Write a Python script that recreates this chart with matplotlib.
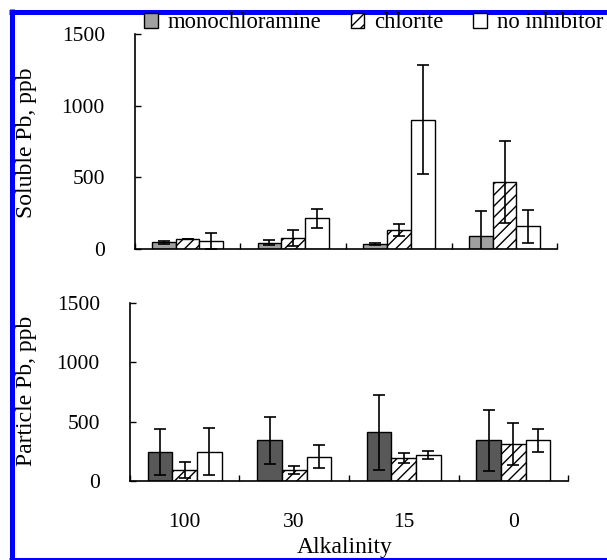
import matplotlib
matplotlib.use("Agg")
import matplotlib.pyplot as plt
from matplotlib.lines import Line2D
import numpy as np

plt.rcParams['font.family'] = ['Liberation Serif', 'DejaVu Serif']
plt.rcParams['hatch.linewidth'] = 1.0

categories = ['100', '30', '15', '0']
series = ['monochloramine', 'chlorite', 'no inhibitor']

sol_mono = [47, 45, 35, 92]
sol_mono_err = [10, 18, 10, 170]
sol_chlor = [68, 77, 134, 467]
sol_chlor_err = [0, 57, 40, 285]
sol_noinh = [58, 216, 901, 157]
sol_noinh_err = [55, 66, 380, 113]

par_mono = [247, 343, 410, 343]
par_mono_err = [195, 200, 314, 258]
par_chlor = [93, 93, 191, 312]
par_chlor_err = [70, 33, 42, 174]
par_noinh = [247, 205, 219, 343]
par_noinh_err = [200, 95, 36, 95]

W, H = 607, 560
fig = plt.figure(figsize=(W / 100, H / 100), dpi=100)

def px_axes(left, right, y0, ytop):
    return fig.add_axes([left / W, (H - y0) / H, (right - left) / W, (y0 - ytop) / H])

ax1 = px_axes(134.7, 557.4, 249, 34)
ax2 = px_axes(129.7, 568.3, 481, 303)

bw = 0.225
x = np.arange(len(categories)) + 0.5

def draw(ax, vals, errs, mono_color):
    colors = [mono_color, 'white', 'white']
    hatches = [None, '///', None]
    offs = [-bw, 0, bw]
    for v, e, c, h, o in zip(vals, errs, colors, hatches, offs):
        ax.bar(x + o, v, bw, color=c, edgecolor='black', linewidth=1.0, hatch=h,
               yerr=e, error_kw=dict(ecolor='black', elinewidth=1.2, capsize=4.5, capthick=1.2))
    ax.set_xlim(0, 4)
    ax.set_ylim(0, 1500)
    ax.set_yticks([0, 500, 1000, 1500])
    ax.set_xticks([0, 1, 2, 3, 4])
    ax.set_xticklabels([])
    ax.spines['top'].set_visible(False)
    ax.spines['right'].set_visible(False)
    for s in ['left', 'bottom']:
        ax.spines[s].set_linewidth(1.2)
    ax.tick_params(axis='both', direction='in', length=4, width=1.0)
    ax.tick_params(axis='y', labelsize=15.5, pad=21.5, colors='black')

draw(ax1, [sol_mono, sol_chlor, sol_noinh], [sol_mono_err, sol_chlor_err, sol_noinh_err], '#a0a0a0')
draw(ax2, [par_mono, par_chlor, par_noinh], [par_mono_err, par_chlor_err, par_noinh_err], '#585858')

ax2.set_xticks(x, minor=True)
ax2.set_xticklabels(categories, minor=True)
ax2.tick_params(axis='x', which='minor', length=0, labelsize=15.5, pad=23)

fig.text(27 / W, 1 - 143 / H, 'Soluble Pb, ppb', rotation=90, ha='center', va='center', fontsize=17)
fig.text(27 / W, 1 - 391 / H, 'Particle Pb, ppb', rotation=90, ha='center', va='center', fontsize=17)
fig.text(345 / W, 1 - 548 / H, 'Alkalinity', ha='center', va='center', fontsize=17)

handles = [
    plt.Rectangle((0, 0), 1, 1, facecolor='#a0a0a0', edgecolor='black', linewidth=1.0),
    plt.Rectangle((0, 0), 1, 1, facecolor='white', edgecolor='black', linewidth=1.0, hatch='///'),
    plt.Rectangle((0, 0), 1, 1, facecolor='white', edgecolor='black', linewidth=1.0),
]
fig.legend(handles, series, loc='center left', bbox_to_anchor=(144 / W, 1 - 23 / H),
           ncol=3, frameon=False, fontsize=16.3, handlelength=0.6, handleheight=0.6,
           handletextpad=0.45, columnspacing=1.3, borderpad=0, borderaxespad=0)

blue = '#0000ff'
fig.add_artist(Line2D([11.5 / W, 11.5 / W], [0, 1 - 9 / H], color=blue, linewidth=3.6,
                      transform=fig.transFigure, solid_capstyle='butt'))
fig.add_artist(Line2D([9 / W, 1], [1 - 11.5 / H, 1 - 11.5 / H], color=blue, linewidth=3.6,
                      transform=fig.transFigure, solid_capstyle='butt'))
fig.add_artist(Line2D([9 / W, 1], [1.5 / H, 1.5 / H], color=blue, linewidth=2.2,
                      transform=fig.transFigure, solid_capstyle='butt'))

fig.savefig('out.png', dpi=100)
